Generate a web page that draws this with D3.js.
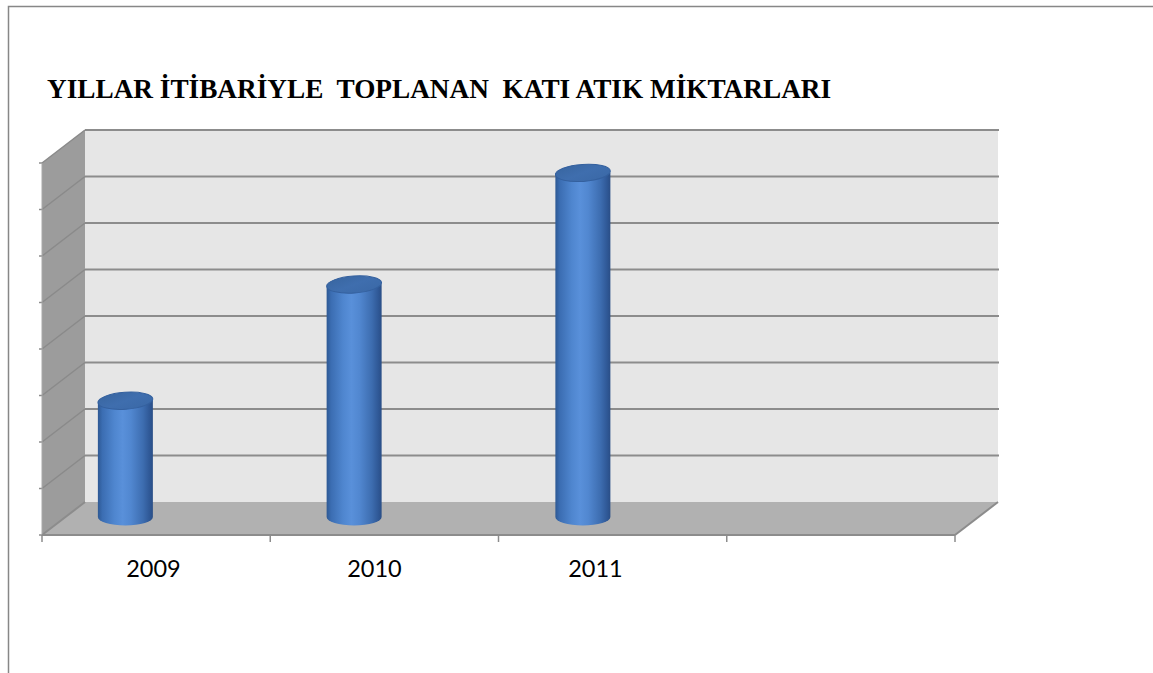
<!DOCTYPE html>
<html>
<head>
<meta charset="utf-8">
<script src="https://cdn.jsdelivr.net/npm/d3@7"></script>
<style>
  html, body { margin: 0; padding: 0; background: #ffffff; }
  svg { display: block; }
  .title { white-space: pre; }
</style>
</head>
<body>
<svg id="chart" width="1153" height="673"></svg>
<script>
// Collected solid waste by year (units of the value axis)
const categories = ["2009", "2010", "2011", ""];
const values = [25, 50, 74, null];
const gridTicks = [0, 10, 20, 30, 40, 50, 60, 70, 80];
const title = "YILLAR İTİBARİYLE  TOPLANAN  KATI ATIK MİKTARLARI";

const svg = d3.select("#chart");
const W = 1153, H = 673;

// 3D box layout: back wall plane and depth offset toward the viewer
const wall = { left: 85, right: 998, top: 130, bottom: 502 };
const depth = { dx: -43, dy: 33 };      // back plane -> front plane
const mid = { dx: -21.5, dy: 15 };      // back plane -> bar plane

const y = d3.scaleLinear().domain([0, 80]).range([wall.bottom, wall.top]);

// Front edge of the floor holds the category ticks
const xFront = d3.scaleBand().domain(categories)
  .range([wall.left + depth.dx, wall.right + depth.dx]).padding(0);
// Bar row and label row (shifted by the projection)
const xBar = d3.scaleBand().domain(categories).range([11, 926]);
const xLabel = d3.scaleBand().domain(categories).range([43, 927]);

// chart-area frame
svg.append("rect")
  .attr("x", 8.5).attr("y", 6.5)
  .attr("width", W + 20).attr("height", H + 20)
  .attr("fill", "none").attr("stroke", "#878787").attr("stroke-width", 1.5);

// title
svg.append("text")
  .attr("class", "title")
  .attr("xml:space", "preserve")
  .attr("x", 47).attr("y", 98)
  .attr("font-family", "'Liberation Serif', 'DejaVu Serif', serif")
  .attr("font-weight", "bold")
  .attr("font-size", 27.25)
  .attr("fill", "#000")
  .text(title);

const defs = svg.append("defs");
const g = svg.append("g");

// back wall
g.append("rect")
  .attr("x", wall.left).attr("y", wall.top)
  .attr("width", wall.right - wall.left).attr("height", wall.bottom - wall.top)
  .attr("fill", "#e6e6e6");

// side wall
const fx = wall.left + depth.dx;
g.append("path")
  .attr("d", `M${wall.left},${wall.top} L${fx},${wall.top + depth.dy} L${fx},${wall.bottom + depth.dy} L${wall.left},${wall.bottom} Z`)
  .attr("fill", "#9c9c9c");

// floor
g.append("path")
  .attr("d", `M${wall.left},${wall.bottom} L${wall.right},${wall.bottom} L${wall.right + depth.dx},${wall.bottom + depth.dy} L${fx},${wall.bottom + depth.dy} Z`)
  .attr("fill", "#b1b1b1");

// gridlines on the back wall
g.selectAll(".grid").data(gridTicks.slice(1)).join("line")
  .attr("class", "grid")
  .attr("x1", wall.left).attr("x2", wall.right + 1)
  .attr("y1", d => y(d)).attr("y2", d => y(d))
  .attr("stroke", "#8c8c8c").attr("stroke-width", 2);

// gridlines across the side wall
g.selectAll(".sgrid").data(gridTicks).join("line")
  .attr("class", "sgrid")
  .attr("x1", fx).attr("y1", d => y(d) + depth.dy)
  .attr("x2", wall.left).attr("y2", d => y(d))
  .attr("stroke", d => d === 0 ? "#8c8c8c" : "#8a8a8a")
  .attr("stroke-width", d => d === 0 ? 2 : 1.5);

// value ticks on the side wall front edge
g.selectAll(".vtick").data(gridTicks).join("line")
  .attr("class", "vtick")
  .attr("x1", fx - 3).attr("x2", fx)
  .attr("y1", d => y(d) + depth.dy).attr("y2", d => y(d) + depth.dy)
  .attr("stroke", "#8c8c8c").attr("stroke-width", 1.5);

// side wall front edge
g.append("line")
  .attr("x1", fx).attr("x2", fx)
  .attr("y1", wall.top + depth.dy).attr("y2", wall.bottom + depth.dy)
  .attr("stroke", "#a8a8a8").attr("stroke-width", 1);

// floor front and right edges
g.append("line")
  .attr("x1", fx).attr("x2", wall.right + depth.dx)
  .attr("y1", wall.bottom + depth.dy).attr("y2", wall.bottom + depth.dy)
  .attr("stroke", "#8c8c8c").attr("stroke-width", 2);
g.append("line")
  .attr("x1", wall.right + depth.dx).attr("y1", wall.bottom + depth.dy)
  .attr("x2", wall.right).attr("y2", wall.bottom)
  .attr("stroke", "#8c8c8c").attr("stroke-width", 2);

// category ticks on the floor front edge
const tickXs = categories.map(c => xFront(c)).concat([xFront.range()[1]]);
g.selectAll(".ctick").data(tickXs).join("line")
  .attr("class", "ctick")
  .attr("x1", d => d).attr("x2", d => d)
  .attr("y1", wall.bottom + depth.dy).attr("y2", wall.bottom + depth.dy + 7)
  .attr("stroke", "#8c8c8c").attr("stroke-width", 1.5);

// cylinder shading
const body = defs.append("linearGradient").attr("id", "cylBody")
  .attr("x1", "0").attr("x2", "1").attr("y1", "0").attr("y2", "0");
[[0, "#2d5893"], [0.08, "#3b6db2"], [0.3, "#4f86cf"], [0.45, "#5990da"],
 [0.6, "#5187d0"], [0.82, "#3d6db0"], [0.94, "#2f5896"], [1, "#2a4e86"]]
  .forEach(([o, c]) => body.append("stop").attr("offset", o).attr("stop-color", c));

const topGrad = defs.append("linearGradient").attr("id", "cylTop")
  .attr("x1", "0").attr("x2", "1").attr("y1", "0").attr("y2", "1");
[[0, "#38659f"], [0.5, "#3f6eae"], [1, "#3a68a6"]]
  .forEach(([o, c]) => topGrad.append("stop").attr("offset", o).attr("stop-color", c));

// cylinders
const barW = 55, rx = barW / 2, ry = 8.5;
const bars = categories.map((c, i) => ({ c, v: values[i] })).filter(d => d.v != null);
const cyl = g.selectAll(".cyl").data(bars).join("g").attr("class", "cyl");

cyl.append("path")
  .attr("d", d => {
    const cx = xBar(d.c) + xBar.bandwidth() / 2;
    const yb = y(0) + mid.dy, yt = y(d.v) + mid.dy;
    return `M${cx - rx},${yt} L${cx - rx},${yb} A${rx},${ry} 0 0 0 ${cx + rx},${yb} L${cx + rx},${yt} Z`;
  })
  .attr("fill", "url(#cylBody)");

cyl.append("ellipse")
  .attr("cx", d => xBar(d.c) + xBar.bandwidth() / 2)
  .attr("cy", d => y(d.v) + mid.dy)
  .attr("rx", rx).attr("ry", ry)
  .attr("transform", d => `rotate(-4 ${xBar(d.c) + xBar.bandwidth() / 2} ${y(d.v) + mid.dy})`)
  .attr("fill", "url(#cylTop)")
  .attr("stroke", "#34609e").attr("stroke-width", 1);

// category labels
g.selectAll(".clabel").data(categories.filter(c => c !== "")).join("text")
  .attr("class", "clabel")
  .attr("x", d => xLabel(d) + xLabel.bandwidth() / 2)
  .attr("y", 577)
  .attr("text-anchor", "middle")
  .attr("font-family", "Lato, 'Open Sans', sans-serif")
  .attr("font-size", 23.5)
  .attr("fill", "#000")
  .text(d => d);
</script>
</body>
</html>
